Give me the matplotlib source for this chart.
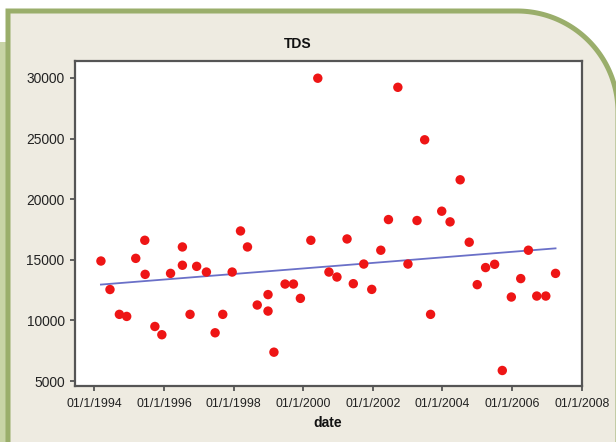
import numpy as np
import matplotlib
matplotlib.use('Agg')
import matplotlib.pyplot as plt
from matplotlib.patches import Polygon, Rectangle

plt.rcParams['font.family'] = ['Liberation Sans', 'DejaVu Sans']

# ---- data (decimal year of sample, TDS value) ----
years = [1994.19, 1994.45, 1994.72, 1994.93, 1995.19, 1995.45, 1995.46, 1995.74, 1995.94, 1996.19,
         1996.53, 1996.53, 1996.75, 1996.94, 1997.22, 1997.47, 1997.69, 1997.96, 1998.20, 1998.40,
         1998.68, 1998.99, 1998.99, 1999.16, 1999.48, 1999.72, 1999.92, 2000.22, 2000.42, 2000.74,
         2000.97, 2001.26, 2001.44, 2001.74, 2001.97, 2002.23, 2002.45, 2002.72, 2003.01, 2003.27,
         2003.49, 2003.66, 2003.98, 2004.22, 2004.51, 2004.77, 2005.00, 2005.24, 2005.50, 2005.72,
         2005.98, 2006.25, 2006.47, 2006.71, 2006.97, 2007.25]
tds = [14900, 12550, 10500, 10330, 15120, 16610, 13800, 9500, 8820, 13880,
       16060, 14550, 10500, 14460, 13990, 8980, 10500, 13990, 17380, 16060,
       11270, 12130, 10770, 7380, 13000, 13000, 11820, 16610, 29980, 13990,
       13580, 16720, 13030, 14650, 12560, 15790, 18320, 29230, 14650, 18240,
       24900, 10500, 19010, 18130, 21600, 16450, 12950, 14360, 14630, 5870,
       11930, 13450, 15790, 12010, 12010, 13880]

x_tick_years = [1994, 1996, 1998, 2000, 2002, 2004, 2006, 2008]
x_tick_labels = ['01/1/1994', '01/1/1996', '01/1/1998', '01/1/2000',
                 '01/1/2002', '01/1/2004', '01/1/2006', '01/1/2008']
y_ticks = [5000, 10000, 15000, 20000, 25000, 30000]
title = 'TDS'
xlabel = 'date'

W, H = 616, 442
fig = plt.figure(figsize=(W / 100, H / 100), dpi=100, facecolor='white')

# ---- decorative frame ----
bg = fig.add_axes([0, 0, 1, 1], zorder=0)
bg.set_xlim(0, W)
bg.set_ylim(H, 0)
bg.axis('off')
bg.add_patch(Rectangle((0, 42), 5.5, 420, facecolor='#C8D4A6', lw=0))
theta = np.linspace(np.pi / 2, 0, 80)
cx, cy, r = 517, 112, 101
arc = np.column_stack([cx + r * np.cos(theta), cy - r * np.sin(theta)])
pts = np.vstack([[8, 470], [8, cy - r], [cx, cy - r], arc, [cx + r, 470]])
bg.add_patch(Polygon(pts, closed=True, facecolor='#EEEBE1', edgecolor='#9AAE6B', lw=3.6))

# ---- main axes ----
ax = fig.add_axes([75 / W, (H - 386) / H, 507 / W, 325 / H], zorder=1)
ax.set_facecolor('white')
ax.scatter(years, tds, s=46, color='#EE1515', edgecolors='none', zorder=3)
slope, intercept = np.polyfit(years, tds, 1)
xx = np.array([min(years), max(years)])
ax.plot(xx, slope * xx + intercept, color='#6A70C8', lw=1.3, zorder=2)

ax.set_xlim(1993.445, 2008.01)
ax.set_ylim(4590, 31400)
ax.set_xticks(x_tick_years)
ax.set_xticklabels(x_tick_labels)
ax.set_yticks(y_ticks)
ax.set_yticklabels([str(v) for v in y_ticks])
for s in ax.spines.values():
    s.set_color('#555555')
    s.set_linewidth(1.6)
ax.tick_params(direction='out', length=3.5, width=1.3, color='#555555',
               labelcolor='#222222')
ax.tick_params(axis='x', labelsize=8.9, pad=5)
ax.tick_params(axis='y', labelsize=9.9, pad=4)

fig.text(298 / W, 1 - 44 / H, title, ha='center', va='center',
         fontsize=10, fontweight='bold', color='#111111')
fig.text(328 / W, 1 - 423 / H, xlabel, ha='center', va='center',
         fontsize=10, fontweight='bold', color='#111111')

fig.savefig('out.png', dpi=100, facecolor='white')
